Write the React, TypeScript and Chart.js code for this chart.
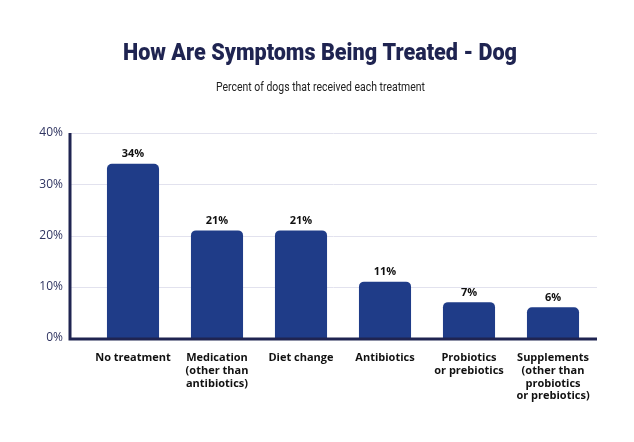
import React, { useEffect, useRef } from "react";
import { Chart, registerables } from "chart.js";

Chart.register(...registerables);

const categories: string[][] = [
  ["No treatment"],
  ["Medication", "(other than", "antibiotics)"],
  ["Diet change"],
  ["Antibiotics"],
  ["Probiotics", "or prebiotics"],
  ["Supplements", "(other than", "probiotics", "or prebiotics)"],
];
const values: number[] = [34, 21, 21, 11, 7, 6];
const yTicks: number[] = [0, 10, 20, 30, 40];

const TITLE = "How Are Symptoms Being Treated - Dog";
const SUBTITLE = "Percent of dogs that received each treatment";

const NAVY = "#1f2451";
const BAR = "#1f3c88";
const LABEL_FONT = "'Open Sans', Lato, sans-serif";

function drawFitted(ctx: any, text: string, font: string, color: string, cx: number, cy: number, width: number) {
  ctx.save();
  ctx.font = font;
  ctx.fillStyle = color;
  ctx.textAlign = "center";
  ctx.textBaseline = "middle";
  const w = ctx.measureText(text).width;
  const s = width / w;
  ctx.translate(cx, cy);
  ctx.scale(s, 1);
  ctx.fillText(text, 0, 0);
  ctx.restore();
}

const framePlugin = {
  id: "frame",
  beforeDatasetsDraw(chart: any) {
    const { ctx, scales } = chart;
    const y = scales.y;
    const left = 70;
    const right = 597;
    ctx.save();
    ctx.strokeStyle = "#e2e2ee";
    ctx.lineWidth = 1;
    yTicks.forEach((t) => {
      if (t === 0) return;
      const py = Math.round(y.getPixelForValue(t)) + 0.5;
      ctx.beginPath();
      ctx.moveTo(left, py);
      ctx.lineTo(right, py);
      ctx.stroke();
    });
    ctx.restore();
    drawFitted(ctx, TITLE, "900 24px Roboto, 'DejaVu Sans', sans-serif", NAVY, 320, 54, 394);
    drawFitted(ctx, SUBTITLE, "13px Roboto, 'DejaVu Sans', sans-serif", "#222", 320.5, 88, 209);
  },
  afterDatasetsDraw(chart: any) {
    const { ctx, scales } = chart;
    const y = scales.y;
    const left = 70;
    const right = 597;
    ctx.save();
    ctx.strokeStyle = NAVY;
    ctx.lineWidth = 3;
    const top = y.getPixelForValue(40);
    const bottom = y.getPixelForValue(0) + 1;
    ctx.beginPath();
    ctx.moveTo(left, top);
    ctx.lineTo(left, bottom);
    ctx.lineTo(right, bottom);
    ctx.stroke();
    const meta = chart.getDatasetMeta(0);
    ctx.fillStyle = "#111";
    ctx.font = "bold 11px " + LABEL_FONT;
    ctx.textAlign = "center";
    ctx.textBaseline = "bottom";
    meta.data.forEach((bar: any, i: number) => {
      ctx.fillText(values[i] + "%", bar.x, bar.y - 4);
    });
    ctx.restore();
  },
};

export default function App() {
  const ref = useRef<HTMLCanvasElement | null>(null);
  useEffect(() => {
    document.body.style.margin = "0";
    const chart = new Chart(ref.current as HTMLCanvasElement, {
      type: "bar",
      data: {
        labels: categories,
        datasets: [
          {
            data: values,
            backgroundColor: BAR,
            borderRadius: { topLeft: 5, topRight: 5, bottomLeft: 0, bottomRight: 0 },
            borderSkipped: "bottom",
            barPercentage: 0.62,
            categoryPercentage: 1,
          },
        ],
      },
      options: {
        animation: false,
        responsive: false,
        maintainAspectRatio: false,
        layout: { padding: { left: 0, right: 39, top: 133, bottom: 0 } },
        plugins: {
          legend: { display: false },
          tooltip: { enabled: false },
          title: { display: false },
        },
        scales: {
          x: {
            grid: { display: false, drawTicks: false },
            border: { display: false },
            ticks: {
              color: "#111",
              font: { family: LABEL_FONT, size: 11, weight: "bold", lineHeight: 1.15 },
              padding: 14,
              maxRotation: 0,
              autoSkip: false,
            },
            afterFit: (s: any) => {
              s.height = 104;
            },
          },
          y: {
            min: 0,
            max: 40,
            grid: { display: false, drawTicks: false },
            border: { display: false },
            ticks: {
              stepSize: 10,
              color: "#2f3461",
              font: { family: LABEL_FONT, size: 12 },
              padding: 28,
              callback: (v: any) => v + "%",
            },
            afterFit: (s: any) => {
              s.width = 91;
            },
          },
        },
      },
      plugins: [framePlugin],
    });
    return () => chart.destroy();
  }, []);
  return (
    <div style={{ position: "fixed", left: 0, top: 0, width: 634, height: 442, background: "#fff" }}>
      <canvas ref={ref} width={634} height={442} style={{ width: 634, height: 442 }} />
    </div>
  );
}
